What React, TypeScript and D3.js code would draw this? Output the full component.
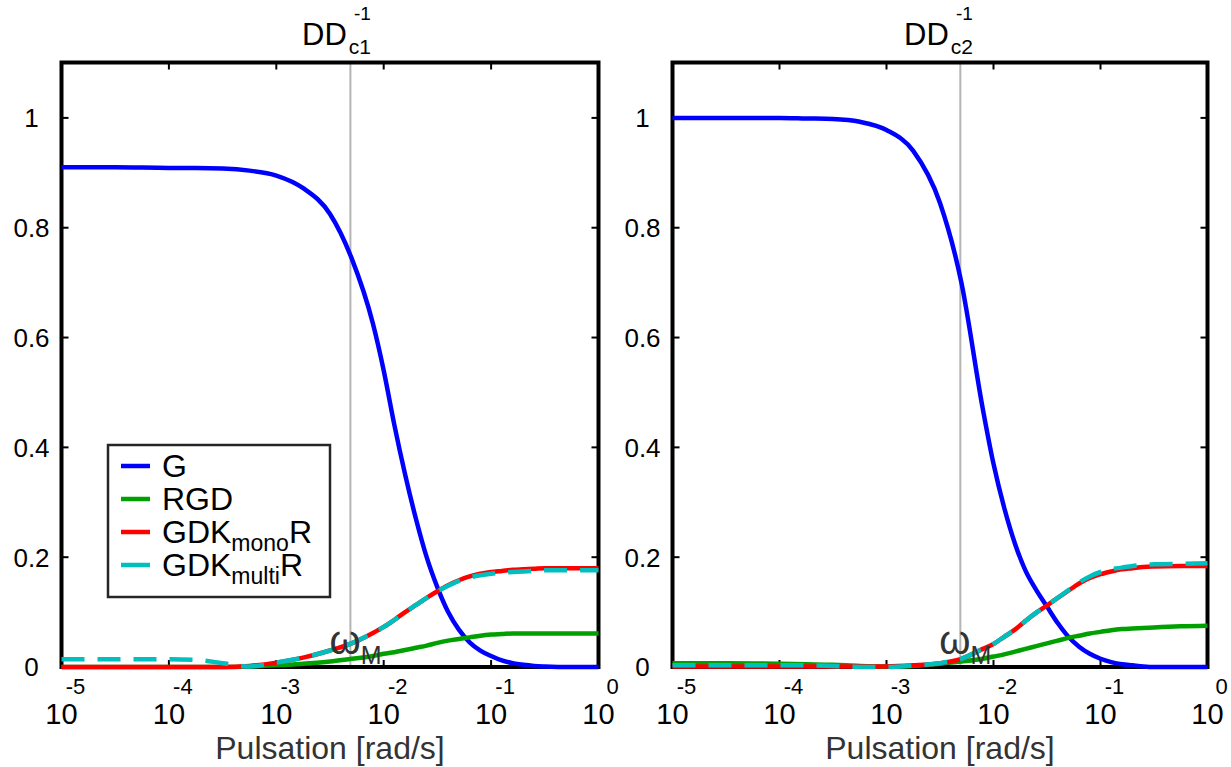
import React from 'react';
import * as d3 from 'd3';

// log10 of pulsation [rad/s]
const LOG_W = [-5, -4.5, -4, -3.75, -3.5, -3.25, -3, -2.75, -2.5, -2.3, -2.1, -2.0, -1.9, -1.8, -1.7, -1.6, -1.5, -1.4, -1.3, -1.2, -1.1, -1.0, -0.9, -0.8, -0.7, -0.6, -0.5, -0.25, 0];

// Left panel (DD_c1^-1)
const G_C1 = [0.91, 0.91, 0.909, 0.909, 0.908, 0.904, 0.895, 0.872, 0.825, 0.745, 0.625, 0.54, 0.44, 0.35, 0.27, 0.2, 0.145, 0.1, 0.068, 0.045, 0.03, 0.02, 0.012, 0.007, 0.004, 0.002, 0.001, 0, 0];
const RGD_C1 = [0, 0, 0, 0, 0, 0.001, 0.003, 0.006, 0.01, 0.015, 0.02, 0.024, 0.027, 0.031, 0.035, 0.039, 0.044, 0.048, 0.051, 0.054, 0.057, 0.059, 0.06, 0.061, 0.061, 0.061, 0.061, 0.061, 0.061];
const MONO_C1 = [0, 0, 0, 0, 0, 0.002, 0.008, 0.017, 0.03, 0.043, 0.062, 0.073, 0.086, 0.1, 0.113, 0.126, 0.138, 0.149, 0.158, 0.165, 0.17, 0.173, 0.175, 0.177, 0.178, 0.179, 0.18, 0.18, 0.18];
const MULTI_C1 = [0.014, 0.014, 0.014, 0.013, 0.007, 0.001, 0.008, 0.017, 0.03, 0.043, 0.062, 0.073, 0.086, 0.1, 0.113, 0.126, 0.138, 0.148, 0.157, 0.163, 0.167, 0.17, 0.172, 0.173, 0.174, 0.175, 0.176, 0.176, 0.176];

// Right panel (DD_c2^-1)
const G_C2 = [1, 1, 1, 0.999, 0.998, 0.993, 0.978, 0.94, 0.845, 0.7, 0.47, 0.37, 0.29, 0.225, 0.175, 0.14, 0.11, 0.08, 0.055, 0.037, 0.024, 0.015, 0.009, 0.005, 0.003, 0.001, 0, 0, 0];
const RGD_C2 = [0.007, 0.007, 0.006, 0.005, 0.004, 0.002, 0.001, 0.002, 0.006, 0.01, 0.015, 0.019, 0.023, 0.028, 0.033, 0.038, 0.043, 0.048, 0.053, 0.057, 0.061, 0.064, 0.067, 0.069, 0.07, 0.071, 0.072, 0.074, 0.075];
const MONO_C2 = [0.001, 0.001, 0.001, 0.001, 0.001, 0.001, 0.001, 0.003, 0.007, 0.015, 0.033, 0.042, 0.055, 0.068, 0.084, 0.099, 0.112, 0.126, 0.139, 0.152, 0.162, 0.169, 0.174, 0.178, 0.18, 0.182, 0.183, 0.184, 0.184];
const MULTI_C2 = [0.003, 0.003, 0.003, 0.003, 0.002, 0, 0, 0.003, 0.007, 0.015, 0.033, 0.042, 0.055, 0.068, 0.084, 0.099, 0.112, 0.126, 0.14, 0.154, 0.165, 0.173, 0.178, 0.181, 0.184, 0.186, 0.187, 0.188, 0.189];

const OMEGA_M_LOG = -2.31;
const X_TICK_EXP = [-5, -4, -3, -2, -1, 0];
const Y_TICKS = [0, 0.2, 0.4, 0.6, 0.8, 1];
const Y_TICK_LABELS = ['0', '0.2', '0.4', '0.6', '0.8', '1'];

const SERIES_NAMES = ['G', 'RGD', 'GDK_mono R', 'GDK_multi R'];
const SERIES_COLORS = ['#0000ff', '#00a000', '#ff0000', '#00bfbf'];

const FONT = "'Liberation Sans', Arial, Helvetica, sans-serif";

const PANELS = [
  { sub: 'c1', x0: 61.5, x1: 598.5, titleX: 302, series: [G_C1, RGD_C1, MONO_C1, MULTI_C1], legend: true },
  { sub: 'c2', x0: 672.5, x1: 1207.5, titleX: 904, series: [G_C2, RGD_C2, MONO_C2, MULTI_C2], legend: false },
];

const Y_TOP = 62.5;
const Y_BOT = 667;

function Panel({ p }: { p: any }) {
  const x = d3.scaleLog().domain([1e-5, 1]).range([p.x0, p.x1]);
  const y = d3.scaleLinear().domain([0, 1.1]).range([Y_BOT, 63]);
  const line = d3
    .line<number>()
    .x((_, i) => x(Math.pow(10, LOG_W[i])))
    .y((d) => y(d))
    .curve(d3.curveMonotoneX);
  const cx = (p.x0 + p.x1) / 2;
  const gx = x(Math.pow(10, OMEGA_M_LOG));
  const tickLen = 7;
  return (
    <g>
      <line x1={gx} x2={gx} y1={Y_TOP} y2={Y_BOT} stroke="#b4b4b4" strokeWidth={2} />
      <rect x={p.x0} y={Y_TOP} width={p.x1 - p.x0} height={Y_BOT - Y_TOP} fill="none" stroke="#000" strokeWidth={4} />
      {Y_TICKS.map((t, i) => (
        <g key={'y' + i}>
          <line x1={p.x0} x2={p.x0 + tickLen} y1={y(t)} y2={y(t)} stroke="#000" strokeWidth={2} />
          <line x1={p.x1} x2={p.x1 - tickLen} y1={y(t)} y2={y(t)} stroke="#000" strokeWidth={2} />
          <text x={p.x0 - 30} y={y(t)} dy="0.36em" textAnchor="middle" fontSize={26} fontFamily={FONT} fill="#000">
            {Y_TICK_LABELS[i]}
          </text>
        </g>
      ))}
      {X_TICK_EXP.map((e) => {
        const tx = x(Math.pow(10, e));
        return (
          <g key={'x' + e}>
            <line x1={tx} x2={tx} y1={Y_BOT} y2={Y_BOT - tickLen} stroke="#000" strokeWidth={2} />
            <line x1={tx} x2={tx} y1={Y_TOP} y2={Y_TOP + tickLen} stroke="#000" strokeWidth={2} />
            <text x={tx} y={724} textAnchor="middle" fontSize={29} fontFamily={FONT} fill="#000">10</text>
            <text x={tx + 14} y={694} textAnchor="middle" fontSize={22} fontFamily={FONT} fill="#000">{String(e)}</text>
          </g>
        );
      })}
      {p.series.map((s: number[], i: number) => (
        <path
          key={'s' + i}
          d={line(s) || ''}
          fill="none"
          stroke={SERIES_COLORS[i]}
          strokeWidth={4.5}
          strokeDasharray={i === 3 ? '23,13' : undefined}
        />
      ))}
      <text x={gx - 21} y={654} fontSize={40} fontFamily={FONT} fill="#333">
        ω<tspan fontSize={25} dy={10}>M</tspan>
      </text>
      <text x={p.titleX} y={45} fontSize={31} fontFamily={FONT} fill="#000">
        DD<tspan fontSize={21} dx={2} dy={9}>{p.sub}</tspan>
      </text>
      <text x={p.titleX + 52} y={20} fontSize={19} fontFamily={FONT} fill="#000">-1</text>
      <text x={cx} y={759} textAnchor="middle" fontSize={32} fontFamily={FONT} fill="#333">Pulsation [rad/s]</text>
      {p.legend && <Legend />}
    </g>
  );
}

function Legend() {
  const bx = 108, by = 445, bw = 222, bh = 152;
  const rows = [466, 499, 532, 565];
  return (
    <g>
      <rect x={bx} y={by} width={bw} height={bh} fill="#fff" stroke="#262626" strokeWidth={2.5} />
      {SERIES_NAMES.map((name, i) => {
        const ly = rows[i];
        const parts = name.split(' ');
        let main = name, sub = '', tail = '';
        if (name.includes('_')) {
          const [a, b] = parts[0].split('_');
          main = a;
          sub = b;
          tail = parts[1];
        }
        return (
          <g key={name}>
            <line x1={121} x2={150} y1={ly} y2={ly} stroke={SERIES_COLORS[i]} strokeWidth={4.5} />
            <text x={162} y={ly + 11} fontSize={32} fontFamily={FONT} fill="#000">
              {main}
              {sub && <tspan fontSize={23} dy={8}>{sub}</tspan>}
              {tail && <tspan fontSize={32} dy={-8}>{tail}</tspan>}
            </text>
          </g>
        );
      })}
    </g>
  );
}

export default function App() {
  return (
    <svg width={1231} height={767} style={{ position: 'absolute', left: 0, top: 0, background: '#fff' }}>
      <rect x={0} y={0} width={1231} height={767} fill="#fff" />
      {PANELS.map((p, i) => (
        <Panel key={i} p={p} />
      ))}
    </svg>
  );
}
